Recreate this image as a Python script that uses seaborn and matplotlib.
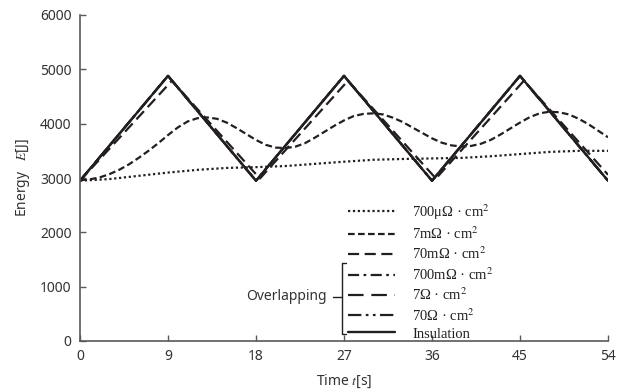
import numpy as np
import pandas as pd
import matplotlib
matplotlib.use("Agg")
import matplotlib.pyplot as plt
from matplotlib.lines import Line2D
import seaborn as sns

# данные
t_tri = [0, 9, 18, 27, 36, 45, 54]
e_insul = [2950, 4880, 2950, 4880, 2950, 4880, 2950]

t_lag = [0, 9.4, 18.4, 27.4, 36.4, 45.4, 54]
e_70m = [2950, 4790, 2990, 4790, 2990, 4790, 3060]

t_7m = [0, 1, 2, 3, 4, 5, 6, 7, 8, 9, 10, 11, 12, 13, 14, 15, 16, 17, 18, 19,
        20, 21, 22, 23, 24, 25, 26, 27, 28, 29, 30, 31, 32, 33, 34, 35, 36,
        37, 38, 39, 40, 41, 42, 43, 44, 45, 46, 47, 48, 49, 50, 51, 52, 53, 54]
e_7m = [2960, 2975, 3010, 3070, 3150, 3250, 3370, 3500, 3640, 3790, 3930,
        4040, 4100, 4115, 4090, 4020, 3920, 3810, 3700, 3610, 3560, 3550, 3575,
        3640, 3740, 3850, 3960, 4060, 4140, 4180, 4190, 4170, 4110, 4030, 3930,
        3830, 3730, 3650, 3600, 3580, 3590, 3630, 3700, 3800, 3910, 4020, 4120,
        4190, 4220, 4210, 4170, 4090, 3990, 3870, 3750]

t_700u = [0, 3, 6, 9, 12, 15, 18, 21, 24, 27, 30, 33, 36, 39, 42, 45, 48, 51, 54]
e_700u = [2950, 2980, 3040, 3100, 3150, 3185, 3200, 3220, 3260, 3300, 3335,
          3350, 3360, 3370, 3400, 3440, 3480, 3500, 3500]

labels = ["700μΩ · cm$^2$", "7mΩ · cm$^2$", "70mΩ · cm$^2$", "700mΩ · cm$^2$",
          "7Ω · cm$^2$", "70Ω · cm$^2$", "Insulation"]

sns.set_theme(style="ticks")
plt.rcParams['font.family'] = ['Noto Sans', 'DejaVu Sans']
plt.rcParams['mathtext.fontset'] = 'stix'

ink = '#231f20'
axc = '#595959'

fig = plt.figure(figsize=(6.2, 3.91), dpi=100)
ax = fig.add_axes([80 / 620, 1 - 341 / 391, 528 / 620, 326 / 391])

series = [
    (t_700u, e_700u, (1, 1.2), 1.6),
    (t_7m, e_7m, (3, 1.5), 1.6),
    (t_lag, e_70m, (5, 2.5), 1.6),
    (t_tri, e_insul, (5, 2, 1.2, 2), 1.6),
    (t_tri, e_insul, (7, 3.5), 1.6),
    (t_tri, e_insul, (6, 2, 1.2, 2, 1.2, 2), 1.6),
    (t_tri, e_insul, None, 1.7),
]

handles = []
for (tx, ey, dash, lw), lab in zip(series, labels):
    df = pd.DataFrame({'t': tx, 'E': ey})
    sns.lineplot(data=df, x='t', y='E', ax=ax, color=ink, lw=lw,
                 dashes=False, legend=False)
    line = ax.lines[-1]
    if dash is not None:
        line.set_dashes(dash)
    h = Line2D([], [], color=ink, lw=lw)
    if dash is not None:
        h.set_dashes(dash)
    handles.append(h)

ax.set_xlim(0, 54)
ax.set_ylim(0, 6000)
ax.set_xticks(t_tri)
ax.set_yticks(np.arange(0, 6001, 1000))
ax.tick_params(direction='in', length=4, width=1, color=axc,
               labelsize=10, labelcolor='#333333', pad=6)
for s in ['top', 'right']:
    ax.spines[s].set_visible(False)
for s in ['left', 'bottom']:
    ax.spines[s].set_color(axc)
    ax.spines[s].set_linewidth(1.2)

ax.set_xlabel('Time $t$[s]', fontsize=10, color='#333333', labelpad=6)
ax.set_ylabel('Energy   $E$[J]', fontsize=10, color='#333333', labelpad=6)

leg = ax.legend(handles, labels, loc='upper left',
                bbox_to_anchor=(348 / 620, 1 - 202 / 391),
                bbox_transform=fig.transFigure, frameon=False,
                borderpad=0, borderaxespad=0, handlelength=3.2,
                handletextpad=1.2, labelspacing=0.26,
                prop={'family': 'Liberation Serif', 'size': 10.5})
for txt in leg.get_texts():
    txt.set_color(ink)

# скобка "Overlapping"
bx = 342 / 620
y_top = 1 - 263 / 391
y_bot = 1 - 334 / 391
y_mid = 1 - 297 / 391
fig.add_artist(Line2D([bx + 4 / 620, bx, bx, bx + 4 / 620],
                      [y_top, y_top, y_bot, y_bot],
                      transform=fig.transFigure, color=ink, lw=1))
fig.add_artist(Line2D([333 / 620, bx], [y_mid, y_mid],
                      transform=fig.transFigure, color=ink, lw=1))
fig.text(327 / 620, y_mid, 'Overlapping', ha='right', va='center',
         fontsize=10, color='#333333')

fig.savefig('out.png', dpi=100)
